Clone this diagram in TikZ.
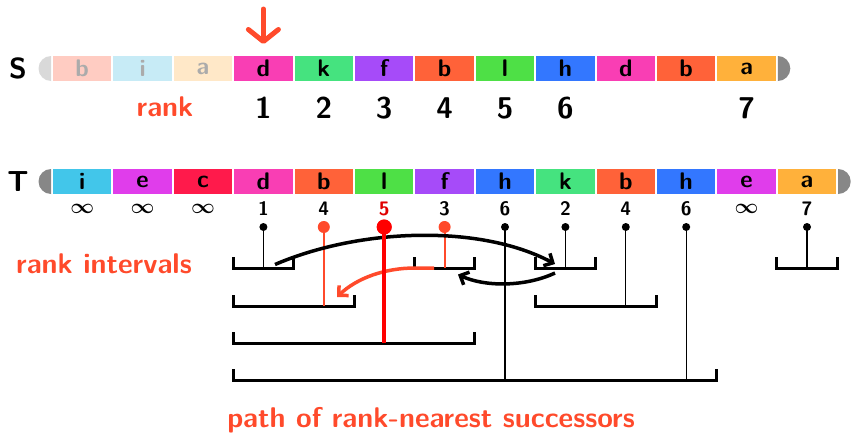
\documentclass[tikz,border=0pt]{standalone}
\usetikzlibrary{arrows.meta}
\definecolor{acc}{HTML}{FF4A2B}
\definecolor{redfive}{HTML}{E00000}
\definecolor{fb}{HTML}{FFCCC2}
\definecolor{fi}{HTML}{C7EBF6}
\definecolor{fa}{HTML}{FFE8C8}
\definecolor{fadetext}{HTML}{ABABAB}
\definecolor{cd}{HTML}{F93EB4}
\definecolor{ck}{HTML}{45E37F}
\definecolor{cf}{HTML}{A64BF9}
\definecolor{cb}{HTML}{FF6239}
\definecolor{cl}{HTML}{4EE046}
\definecolor{ch}{HTML}{3377FF}
\definecolor{ca}{HTML}{FFB13B}
\definecolor{ci}{HTML}{42C6EA}
\definecolor{ce}{HTML}{E03DEB}
\definecolor{cc}{HTML}{FF1A4B}
\definecolor{caplight}{HTML}{D9D9D9}
\definecolor{capdark}{HTML}{878787}
\begin{document}
\begin{tikzpicture}[x=1pt,y=-1pt,
  cell/.style={minimum width=58.4pt, minimum height=25pt, inner sep=0pt, font=\fontsize{24}{24}\selectfont\sffamily\bfseries},
  fcell/.style={cell, text=fadetext},
  rowlbl/.style={font=\fontsize{29}{29}\selectfont\sffamily\bfseries},
  snum/.style={font=\fontsize{30}{30}\selectfont\sffamily\bfseries},
  tnum/.style={font=\fontsize{19.5}{19.5}\selectfont\sffamily\bfseries},
  tinf/.style={font=\fontsize{22}{22}\selectfont\boldmath},
  lbl/.style={text=acc, font=\fontsize{28.5}{28.5}\selectfont\sffamily\bfseries},
  dotk/.style={circle, fill=black, inner sep=0pt, minimum size=8pt},
  doto/.style={circle, fill=acc, inner sep=0pt, minimum size=12pt},
  dotr/.style={circle, fill=red, inner sep=0pt, minimum size=15pt},
  brk/.style={line width=3pt},
  vk/.style={line width=1.3pt},
  vo/.style={line width=2pt, draw=acc},
  vr/.style={line width=4.5pt, draw=red},
  kcurve/.style={line width=3.5pt, -{Straight Barb[length=7pt,width=14pt]}},
  ocurve/.style={kcurve, draw=acc},
  toparrow/.style={draw=acc, line width=5pt, line cap=round, -{Straight Barb[length=12pt,width=30pt,line cap=round,line join=round]}},
]
\useasboundingbox (0,0) rectangle (851,434);

% ---------- S row ----------
\node[rowlbl] (Slbl) at (18,68.5) {S};
\fill[caplight] (51,56) arc[start angle=270, end angle=90, radius=12.5] -- cycle;
\node[fcell, fill=fb] (s0) at (82.2,68.5) {b};
\node[fcell, fill=fi] (s1) at (142.6,68.5) {i};
\node[fcell, fill=fa] (s2) at (203.0,68.5) {a};
\node[cell, fill=cd] (s3) at (263.4,68.5) {d};
\node[cell, fill=ck] (s4) at (323.8,68.5) {k};
\node[cell, fill=cf] (s5) at (384.2,68.5) {f};
\node[cell, fill=cb] (s6) at (444.6,68.5) {b};
\node[cell, fill=cl] (s7) at (505.0,68.5) {l};
\node[cell, fill=ch] (s8) at (565.4,68.5) {h};
\node[cell, fill=cd] (s9) at (625.8,68.5) {d};
\node[cell, fill=cb] (s10) at (686.2,68.5) {b};
\node[cell, fill=ca] (s11) at (746.6,68.5) {a};
\fill[capdark] (777.8,56) arc[start angle=270, end angle=450, radius=12.5] -- cycle;

\coordinate (arrstart) at (263.4,9);
\coordinate (arrend) at (263.4,44);
\draw[toparrow] (arrstart) -- (arrend);

\node[lbl] (ranklbl) at (165,107) {rank};
\node[snum] (sr3) at (263.4,108) {1};
\node[snum] (sr4) at (323.8,108) {2};
\node[snum] (sr5) at (384.2,108) {3};
\node[snum] (sr6) at (444.6,108) {4};
\node[snum] (sr7) at (505.0,108) {5};
\node[snum] (sr8) at (565.4,108) {6};
\node[snum] (sr11) at (746.6,108) {7};

% ---------- T row ----------
\node[rowlbl] (Tlbl) at (18,181.5) {T};
\fill[capdark] (51,169) arc[start angle=270, end angle=90, radius=12.5] -- cycle;
\node[cell, fill=ci] (t0) at (82.2,181.5) {i};
\node[cell, fill=ce] (t1) at (142.6,181.5) {e};
\node[cell, fill=cc] (t2) at (203.0,181.5) {c};
\node[cell, fill=cd] (t3) at (263.4,181.5) {d};
\node[cell, fill=cb] (t4) at (323.8,181.5) {b};
\node[cell, fill=cl] (t5) at (384.2,181.5) {l};
\node[cell, fill=cf] (t6) at (444.6,181.5) {f};
\node[cell, fill=ch] (t7) at (505.0,181.5) {h};
\node[cell, fill=ck] (t8) at (565.4,181.5) {k};
\node[cell, fill=cb] (t9) at (625.8,181.5) {b};
\node[cell, fill=ch] (t10) at (686.2,181.5) {h};
\node[cell, fill=ce] (t11) at (746.6,181.5) {e};
\node[cell, fill=ca] (t12) at (807.0,181.5) {a};
\fill[capdark] (838.2,169) arc[start angle=270, end angle=450, radius=12.5] -- cycle;

\node[tinf] (tr0) at (82.2,208.5) {$\infty$};
\node[tinf] (tr1) at (142.6,208.5) {$\infty$};
\node[tinf] (tr2) at (203.0,208.5) {$\infty$};
\node[tnum] (tr3) at (263.4,208.7) {1};
\node[tnum] (tr4) at (323.8,208.7) {4};
\node[tnum, text=redfive] (tr5) at (384.2,208.7) {5};
\node[tnum] (tr6) at (444.6,208.7) {3};
\node[tnum] (tr7) at (505.0,208.7) {6};
\node[tnum] (tr8) at (565.4,208.7) {2};
\node[tnum] (tr9) at (625.8,208.7) {4};
\node[tnum] (tr10) at (686.2,208.7) {6};
\node[tinf] (tr11) at (746.6,208.5) {$\infty$};
\node[tnum] (tr12) at (807.0,208.7) {7};

\node[lbl] (intlbl) at (104,264) {rank intervals};
\node[lbl] (pathlbl) at (431,420) {path of rank-nearest successors};

% ---------- brackets ----------
\draw[brk] (233.2,257) -- (233.2,268) -- (293.6,268) -- (293.6,257);   % A
\draw[brk] (414.4,257) -- (414.4,268) -- (474.8,268) -- (474.8,257);   % D
\draw[brk] (535.2,257) -- (535.2,268) -- (595.6,268) -- (595.6,257);   % F
\draw[brk] (776.8,257) -- (776.8,268) -- (837.2,268) -- (837.2,257);   % H
\draw[brk] (233.2,295) -- (233.2,306) -- (354.0,306) -- (354.0,295);   % B
\draw[brk] (535.2,295) -- (535.2,306) -- (656.0,306) -- (656.0,295);   % G
\draw[brk] (233.2,332) -- (233.2,343) -- (474.8,343) -- (474.8,332);   % C
\draw[brk] (233.2,369) -- (233.2,380) -- (716.4,380) -- (716.4,369);   % E

\coordinate (qA) at (263.4,268);
\coordinate (qB) at (323.8,306);
\coordinate (qC) at (384.2,343);
\coordinate (qD) at (444.6,268);
\coordinate (qE1) at (505.0,380);
\coordinate (qF) at (565.4,268);
\coordinate (qG) at (625.8,306);
\coordinate (qE2) at (686.2,380);
\coordinate (qH) at (807.0,268);

% ---------- dots ----------
\node[dotk] (p3) at (263.4,227) {};
\node[doto] (p4) at (323.8,227) {};
\node[dotr] (p5) at (384.2,227) {};
\node[doto] (p6) at (444.6,227) {};
\node[dotk] (p7) at (505.0,227) {};
\node[dotk] (p8) at (565.4,227) {};
\node[dotk] (p9) at (625.8,227) {};
\node[dotk] (p10) at (686.2,227) {};
\node[dotk] (p12) at (807.0,227) {};

% ---------- stems ----------
\draw[vk] (p3.center) -- (qA);
\draw[vk] (p7.center) -- (qE1);
\draw[vk] (p8.center) -- (qF);
\draw[vk] (p9.center) -- (qG);
\draw[vk] (p10.center) -- (qE2);
\draw[vk] (p12.center) -- (qH);
\draw[vo] (p4.center) -- (qB);
\draw[vo] (p6.center) -- (qD);

% ---------- arrows ----------
\coordinate (a1s) at (275,264.5);
\coordinate (a1e) at (555,264);
\coordinate (a2s) at (555,273);
\coordinate (a2e) at (458,274.5);
\coordinate (a3s) at (434,268);
\coordinate (a3m) at (415,268);
\coordinate (a3e) at (337,297);
\draw[kcurve] (a1s) .. controls (360,228) and (480,224) .. (a1e);
\draw[kcurve] (a2s) .. controls (525,287) and (485,287) .. (a2e);
\draw[ocurve] (a3s) -- (a3m) .. controls (385,268) and (357,278) .. (a3e);

\draw[vr] (p5.center) -- (qC);
\node[dotr] at (p5) {};
\end{tikzpicture}
\end{document}
